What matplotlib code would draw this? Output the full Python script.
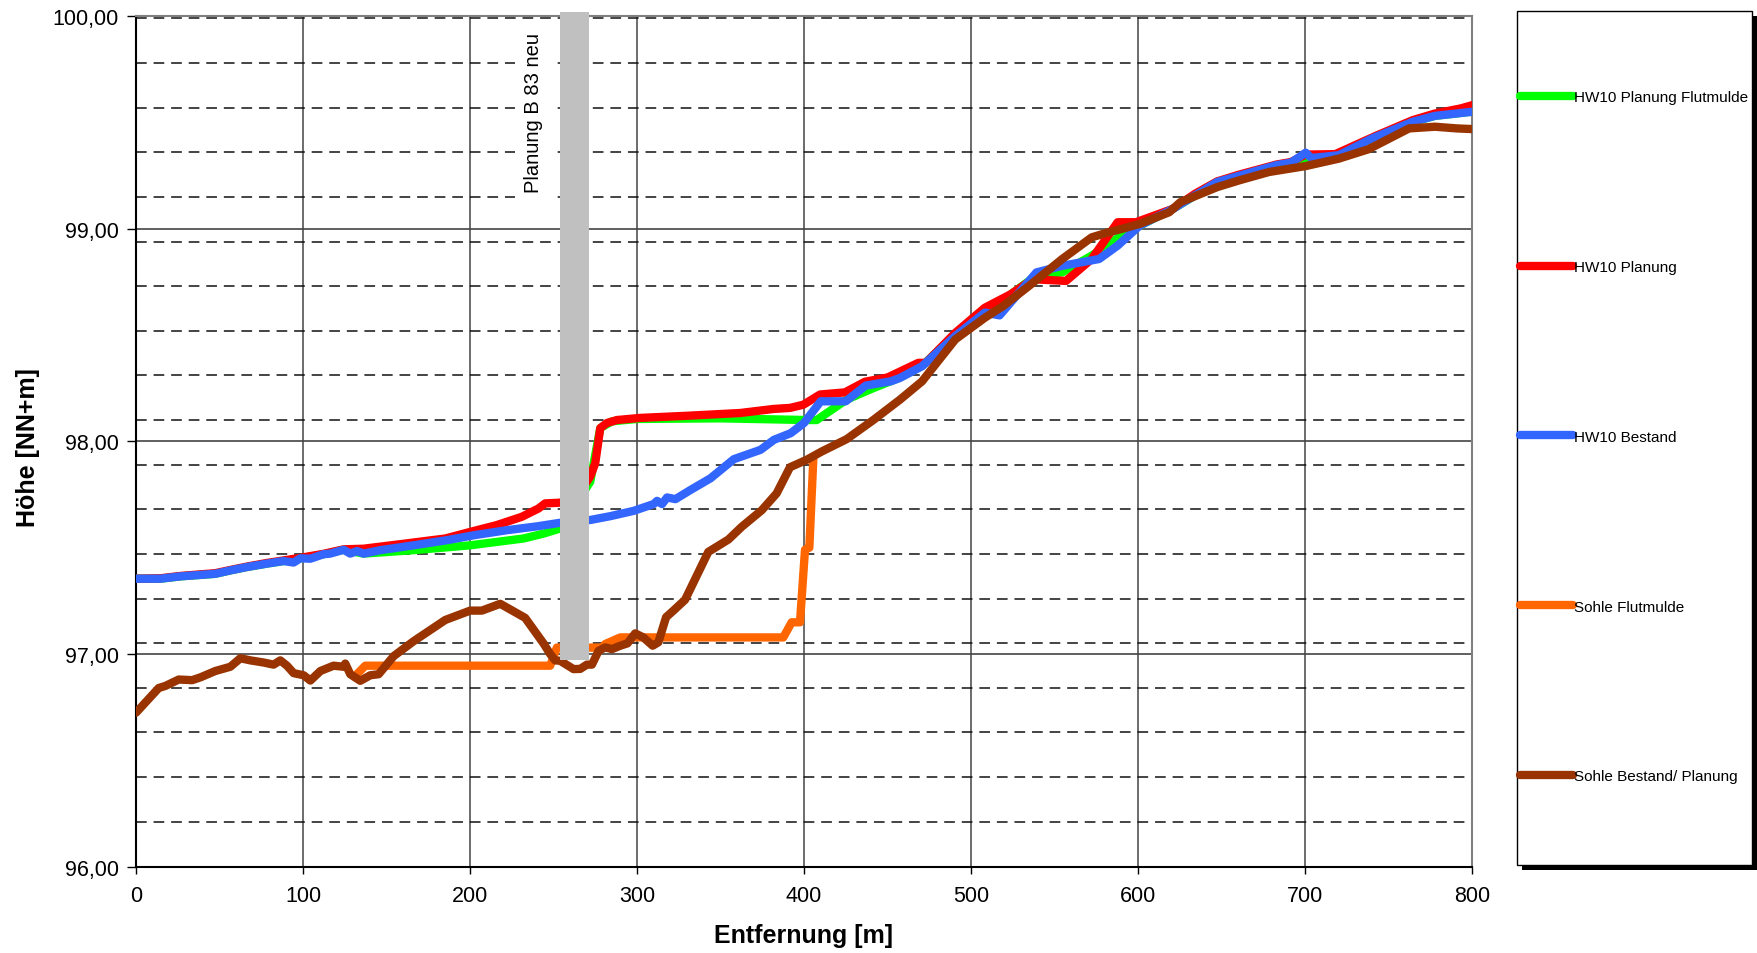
import matplotlib
matplotlib.use('Agg')
import matplotlib.pyplot as plt
from matplotlib.patches import Rectangle
from matplotlib.ticker import FuncFormatter, MultipleLocator
import numpy as np

plt.rcParams['font.family'] = ['Liberation Sans', 'DejaVu Sans']

# HW10 Planung Flutmulde
x_green = [0, 14.6, 26.6, 47.5, 56.5, 66.5, 78.4, 88.4, 98.4, 112.3, 124.3, 136.3, 166, 200.1, 232, 244,
           254, 272, 278, 285, 300, 350, 401.6, 407.6, 425.5, 441.5, 457.5, 470.7, 490.6, 508.3, 523.7,
           539.2, 554.6, 572.3, 590, 601, 620.9, 647.4, 682.8, 700.4, 720.3, 740.2, 764.5, 777.8, 800]
y_green = [97.354, 97.354, 97.365, 97.377, 97.393, 97.409, 97.425, 97.437, 97.45, 97.469, 97.49, 97.472,
           97.488, 97.511, 97.543, 97.566, 97.59, 97.81, 98.062, 98.094, 98.105, 98.108, 98.10, 98.10,
           98.196, 98.25, 98.30, 98.355, 98.50, 98.61, 98.69, 98.78, 98.794, 98.873, 98.967, 99.014,
           99.093, 99.219, 99.298, 99.32, 99.345, 99.424, 99.502, 99.53, 99.55]

# HW10 Planung
x_red = [0, 14.6, 26.6, 47.5, 56.5, 66.5, 78.4, 88.4, 98.4, 112.3, 124.3, 136.3, 160, 185.2, 200.1, 216,
         231, 241, 245, 253, 262, 272, 275, 278, 282, 288, 302, 330, 361.7, 381.7, 391.6, 399.6, 409.6,
         424.5, 436.5, 450, 468.5, 472.9, 490.6, 508.3, 523.7, 537, 556.9, 572.3, 587.8, 598.8, 620.9,
         634.2, 647.4, 660.7, 682.8, 691.6, 700.4, 718.1, 742.4, 764.5, 777.8, 793.2, 800]
y_red = [97.354, 97.356, 97.367, 97.38, 97.395, 97.411, 97.428, 97.44, 97.452, 97.471, 97.492, 97.495,
         97.518, 97.543, 97.574, 97.606, 97.645, 97.684, 97.708, 97.711, 97.72, 97.834, 97.897, 98.062,
         98.086, 98.10, 98.11, 98.12, 98.133, 98.152, 98.157, 98.172, 98.22, 98.23, 98.28, 98.30, 98.369,
         98.369, 98.51, 98.628, 98.691, 98.762, 98.754, 98.857, 99.03, 99.03, 99.093, 99.164, 99.222,
         99.254, 99.301, 99.313, 99.348, 99.35, 99.436, 99.51, 99.541, 99.565, 99.58]

# HW10 Bestand
x_blue = [0, 14.6, 26.6, 47.5, 56.5, 66.5, 78.4, 88.4, 94.4, 98.4, 104.4, 112.3, 116.3, 124.3, 128.3,
          132.3, 136.3, 146.3, 166.2, 186.2, 202.1, 222, 240, 254, 272, 284, 298, 310, 312, 315, 318,
          323, 332, 344, 358, 374, 382, 392, 400, 410, 425, 437, 452, 457.5, 470.7, 490.6, 508.3, 517.1,
          539.2, 554.6, 576.7, 587.8, 601, 620.9, 647.4, 682.8, 691.6, 700.4, 703.8, 720.3, 740.2,
          764.5, 777.8, 800]
y_blue = [97.354, 97.354, 97.365, 97.377, 97.393, 97.409, 97.425, 97.437, 97.43, 97.45, 97.448, 97.469,
          97.472, 97.49, 97.472, 97.484, 97.472, 97.488, 97.511, 97.535, 97.558, 97.582, 97.60, 97.617,
          97.63, 97.648, 97.673, 97.705, 97.72, 97.705, 97.736, 97.728, 97.771, 97.826, 97.916, 97.96,
          98.007, 98.038, 98.086, 98.188, 98.188, 98.262, 98.282, 98.298, 98.353, 98.495, 98.605,
          98.592, 98.794, 98.825, 98.857, 98.92, 99.014, 99.093, 99.219, 99.298, 99.31, 99.357, 99.332,
          99.345, 99.424, 99.502, 99.53, 99.549]

# Sohle Flutmulde
x_orange = [131.3, 137.3, 248, 252, 279, 281, 290, 387.6, 392.6, 397.6, 400.6, 403.2, 405.6]
y_orange = [96.897, 96.945, 96.945, 97.03, 97.03, 97.047, 97.078, 97.078, 97.149, 97.149, 97.49, 97.50,
            97.92]

# Sohle Bestand/Planung
x_brown = [0, 13.6, 17.6, 25.6, 33.6, 38.5, 47.5, 56.5, 62.5, 68.5, 76.4, 82.4, 86.4, 90.4, 94.4, 100.4,
           104.4, 110.4, 118.3, 124.5, 125.3, 128.3, 134.3, 140.3, 145.3, 154.3, 166.2, 185.2, 200.1,
           207.1, 218.1, 233.0, 244.0, 248, 251, 254, 262, 266, 270, 273, 277, 281, 285, 290, 294.3,
           298.9, 303.8, 309.4, 312.8, 317.4, 321.8, 328.8, 342.7, 354.7, 362.7, 374.7, 383.6, 391.6,
           401.6, 410.6, 425.5, 441.5, 457.5, 470.7, 490.6, 508.3, 519.3, 534.8, 554.6, 572.3, 581.2,
           590, 601, 618.7, 625.3, 647.4, 660.7, 678.4, 700.4, 720.3, 738, 762.3, 777.8, 791, 800]
y_brown = [96.724, 96.84, 96.85, 96.88, 96.877, 96.89, 96.92, 96.94, 96.98, 96.97, 96.96, 96.95, 96.97,
           96.945, 96.91, 96.90, 96.875, 96.92, 96.945, 96.94, 96.955, 96.905, 96.874, 96.90, 96.905,
           96.99, 97.06, 97.16, 97.204, 97.204, 97.236, 97.17, 97.05, 97.0, 96.97, 96.968, 96.929,
           96.93, 96.95, 96.95, 97.015, 97.031, 97.023, 97.039, 97.05, 97.097, 97.078, 97.039, 97.055,
           97.173, 97.204, 97.255, 97.48, 97.538, 97.598, 97.676, 97.755, 97.878, 97.913, 97.952, 98.01,
           98.10, 98.196, 98.282, 98.479, 98.581, 98.636, 98.731, 98.857, 98.959, 98.98, 98.998, 99.022,
           99.077, 99.124, 99.195, 99.227, 99.266, 99.294, 99.329, 99.373, 99.471, 99.479, 99.471,
           99.468]

# grey column "Planung B 83 neu"
bar_x0, bar_x1 = 254, 271
bar_bottom, bar_top = 96.97, 100.02

W, H = 1757, 954
fig = plt.figure(figsize=(W / 100, H / 100), dpi=100)
ax = fig.add_axes([136 / W, 1 - 867.7 / H, (1472 - 136) / W, (867.7 - 16.9) / H])
ax.set_xlim(0, 800)
ax.set_ylim(96, 100)

# grid: solid major lines + dashed secondary lines
for gx in range(100, 800, 100):
    ax.axvline(gx, color='#444444', lw=1.1, zorder=1)
for gy in (97, 98, 99):
    ax.axhline(gy, color='#444444', lw=1.2, zorder=1)
dash_y = np.linspace(96.212, 99.988, 19)
ax.hlines(dash_y, 0, 796, colors='#111111', lw=1.1, linestyles=[(0, (7, 4.5))], zorder=1)

series = [
    (x_green, y_green, '#00FF00', 'HW10 Planung Flutmulde'),
    (x_red, y_red, '#FF0000', 'HW10 Planung'),
    (x_blue, y_blue, '#3366FF', 'HW10 Bestand'),
    (x_orange, y_orange, '#FF6600', 'Sohle Flutmulde'),
    (x_brown, y_brown, '#993300', 'Sohle Bestand/ Planung'),
]
handles = []
for xs, ys, col, lab in series:
    ln, = ax.plot(xs, ys, color=col, lw=6, label=lab, solid_capstyle='round',
                  solid_joinstyle='round', zorder=3)
    handles.append(ln)

ax.bar([(bar_x0 + bar_x1) / 2], [bar_top - bar_bottom], bottom=bar_bottom, width=bar_x1 - bar_x0,
       color='#C0C0C0', zorder=5, clip_on=False)
ax.text(237.8, 99.55, 'Planung B 83 neu', rotation=90, ha='center', va='center', fontsize=14.5,
        zorder=4, bbox=dict(facecolor='white', edgecolor='none', pad=6))

ax.xaxis.set_major_locator(MultipleLocator(100))
ax.yaxis.set_major_locator(MultipleLocator(1))
ax.yaxis.set_major_formatter(FuncFormatter(lambda v, p: f'{v:.2f}'.replace('.', ',')))
ax.xaxis.set_major_formatter(FuncFormatter(lambda v, p: f'{v:.0f}'))
ax.tick_params(axis='y', direction='out', length=6.5, width=1, pad=6, labelsize=15.5)
ax.tick_params(axis='x', direction='out', length=5, width=1, pad=8, labelsize=15.5)

for s in ('left', 'bottom'):
    ax.spines[s].set_color('black')
    ax.spines[s].set_linewidth(1.5)
for s in ('top', 'right'):
    ax.spines[s].set_color('#808080')
    ax.spines[s].set_linewidth(1.5)

ax.set_xlabel('Entfernung [m]', fontsize=18, fontweight='bold', va='center')
ax.xaxis.set_label_coords(0.5, -0.0798)
ax.set_ylabel('Höhe [NN+m]', fontsize=18, fontweight='bold', va='center')
ax.yaxis.set_label_coords(-0.0808, 0.4933)

# legend box with shadow
bx0, bx1, by0, by1 = 1516.6, 1752, 11.7, 865.5
fig.add_artist(Rectangle(((bx0 + 5) / W, 1 - (by1 + 5) / H), (bx1 - bx0) / W, (by1 - by0) / H,
                         transform=fig.transFigure, facecolor='black', edgecolor='none', zorder=1))
fig.add_artist(Rectangle((bx0 / W, 1 - by1 / H), (bx1 - bx0) / W, (by1 - by0) / H,
                         transform=fig.transFigure, facecolor='white', edgecolor='black', lw=1,
                         zorder=2))
fig.legend(handles, [h.get_label() for h in handles], loc='center left',
           bbox_to_anchor=(1520 / W, 1 - 437.8 / H), bbox_transform=fig.transFigure,
           frameon=False, fontsize=11, borderpad=0, borderaxespad=0, labelspacing=10.2,
           handlelength=3.45, handletextpad=0.1)

fig.savefig('out.png', dpi=100)
